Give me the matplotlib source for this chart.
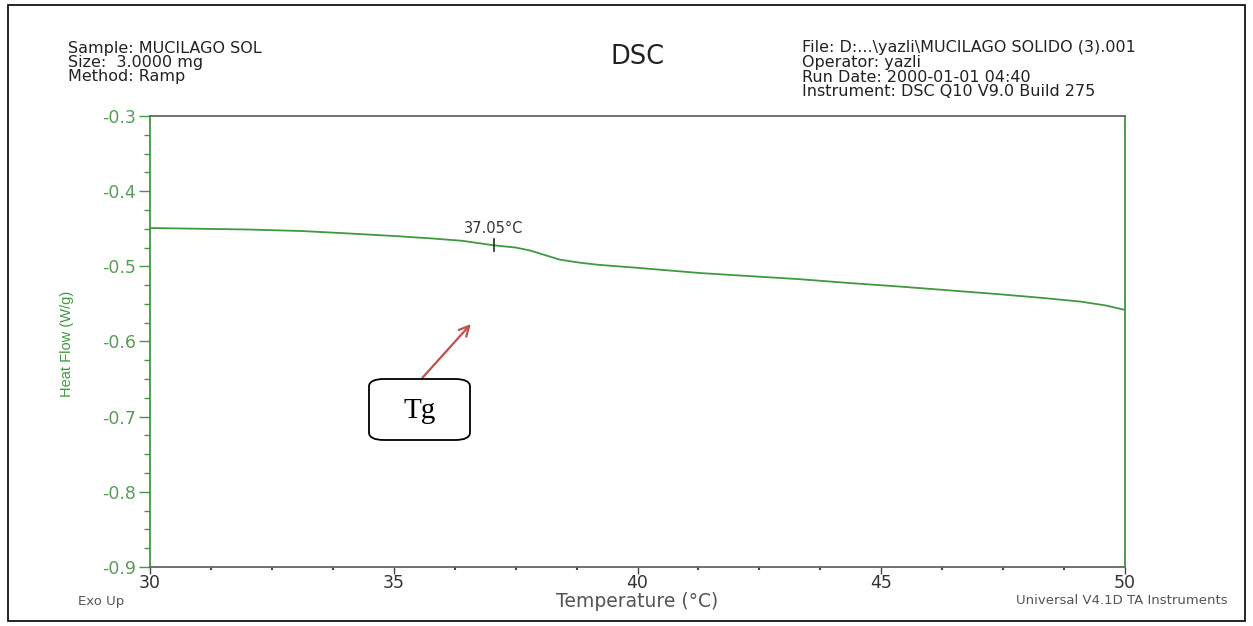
import numpy as np
import matplotlib.pyplot as plt
from matplotlib.patches import Rectangle, FancyBboxPatch
from matplotlib.ticker import MultipleLocator

# DSC heat flow trace (temperature in degC, heat flow in W/g)
temperature = [30.0, 31.0, 32.0, 33.1, 34.0, 35.1, 35.8, 36.4, 37.05, 37.5,
               37.8, 38.1, 38.4, 38.8, 39.2, 40.0, 41.3, 42.3, 43.3, 44.3,
               45.4, 46.4, 47.4, 48.3, 49.1, 49.6, 50.0]
heat_flow = [-0.449, -0.450, -0.451, -0.453, -0.456, -0.460, -0.463, -0.466,
             -0.472, -0.475, -0.479, -0.485, -0.491, -0.495, -0.498, -0.502,
             -0.509, -0.513, -0.517, -0.522, -0.527, -0.532, -0.537, -0.542,
             -0.547, -0.552, -0.558]
tg_temp = 37.05
tg_label = "37.05°C"

header_left = ["Sample: MUCILAGO SOL", "Size:  3.0000 mg", "Method: Ramp"]
header_right = ["File: D:...\\yazli\\MUCILAGO SOLIDO (3).001", "Operator: yazli",
                "Run Date: 2000-01-01 04:40", "Instrument: DSC Q10 V9.0 Build 275"]

green = "#3f9a3f"
tick_green = "#5c9a5c"
gray = "#444444"

plt.rcParams['font.family'] = ['DejaVu Sans']

fig = plt.figure(figsize=(12.53, 6.26), dpi=100)
ax = fig.add_axes([150 / 1253, 1 - 567 / 626, 975 / 1253, 451 / 626])

ax.plot(temperature, heat_flow, color=green, lw=1.3)
ax.set_xlim(30, 50)
ax.set_ylim(-0.9, -0.3)

ax.xaxis.set_major_locator(MultipleLocator(5))
ax.xaxis.set_minor_locator(MultipleLocator(1.25))
ax.yaxis.set_major_locator(MultipleLocator(0.1))
ax.yaxis.set_minor_locator(MultipleLocator(0.025))
ax.yaxis.set_major_formatter(plt.FuncFormatter(lambda v, p: f"{v:.1f}"))

ax.tick_params(axis='y', which='major', length=8, width=1, color=green,
               labelcolor=tick_green, labelsize=12.5, pad=2)
ax.tick_params(axis='y', which='minor', length=4, width=1, color=green)
ax.tick_params(axis='x', which='major', length=5, width=1, color=gray,
               labelcolor="#333333", labelsize=12.5, pad=0)
ax.tick_params(axis='x', which='minor', length=2, width=1.5, color=gray)

for side in ['left', 'right']:
    ax.spines[side].set_color(green)
    ax.spines[side].set_linewidth(1.3)
for side in ['top', 'bottom']:
    ax.spines[side].set_color("#666666")
    ax.spines[side].set_linewidth(1.3)

ax.set_xlabel("Temperature (°C)", color="#555555", fontsize=13.5, labelpad=0)
fig.text(67 / 1253, 1 - 344 / 626, "Heat Flow (W/g)", rotation=90,
         ha='center', va='center', color=green, fontsize=10.5,
         family=['Liberation Sans', 'DejaVu Sans'])

# glass transition marker
tg_y = np.interp(tg_temp, temperature, heat_flow)
ax.plot([tg_temp, tg_temp], [tg_y + 0.008, tg_y - 0.008], color="#222222", lw=1.2)
ax.annotate(tg_label, (tg_temp, tg_y + 0.012), ha='center', va='bottom',
            fontsize=10.5, color="#333333")

# Tg callout box with arrow
ax.annotate("", xy=(36.62, -0.574), xytext=(35.55, -0.651),
            arrowprops=dict(arrowstyle='->', color="#c0504d", lw=1.6,
                            mutation_scale=18))
box = FancyBboxPatch((369 / 1253, 1 - 440 / 626), 101 / 1253, 61 / 626,
                     boxstyle="round,pad=0,rounding_size=0.012",
                     transform=fig.transFigure, fc='white', ec='black', lw=1.3)
fig.patches.append(box)
fig.text(420 / 1253, 1 - 411 / 626, "Tg", ha='center', va='center',
         fontsize=21, family=['Liberation Serif', 'DejaVu Serif'])

# header lines
for i, line in enumerate(header_left):
    fig.text(68 / 1253, 1 - (48 + 14.5 * i) / 626, line, fontsize=11.5,
             va='center', color="#222222")
for i, line in enumerate(header_right):
    fig.text(802 / 1253, 1 - (47.5 + 14.8 * i) / 626, line, fontsize=11.5,
             va='center', color="#222222")
fig.text(638 / 1253, 1 - 57 / 626, "DSC", fontsize=18.5, ha='center',
         va='center', color="#222222")

fig.text(78 / 1253, 1 - 601 / 626, "Exo Up", fontsize=9.5, va='center',
         color="#555555")
fig.text(1228 / 1253, 1 - 600 / 626, "Universal V4.1D TA Instruments",
         fontsize=9.5, va='center', ha='right', color="#555555")

# page frame
fig.patches.append(Rectangle((8 / 1253, 5 / 626), 1237 / 1253, 616 / 626,
                             transform=fig.transFigure, fill=False,
                             ec='black', lw=1.2))

fig.savefig("out.png", dpi=100)
